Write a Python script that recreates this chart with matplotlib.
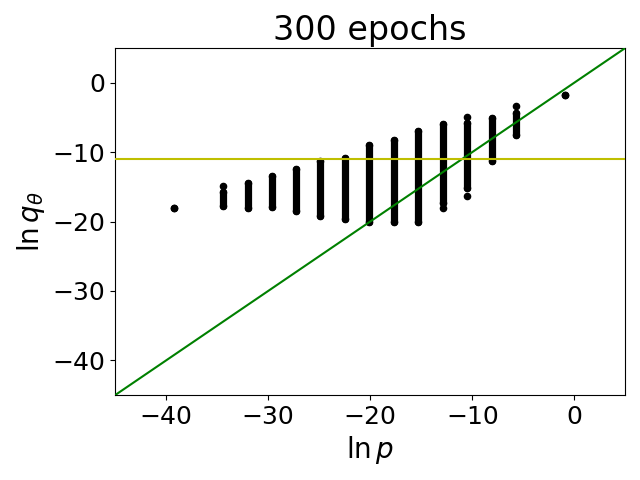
import matplotlib
matplotlib.use('Agg')
import matplotlib.pyplot as plt

# ln p positions of the vertical stripes
lnp = [-39.2, -34.4, -32.0, -29.6, -27.3, -24.9, -22.5, -20.1,
       -17.7, -15.3, -12.9, -10.5, -8.1, -5.7, -0.9]
# continuous part of each stripe (ln q_theta)
stripe_top = [-18.1, -15.8, -14.4, -13.4, -12.5, -11.3, -10.8, -9.0,
              -8.2, -6.9, -6.0, -5.8, -5.1, -4.4, -1.8]
stripe_bottom = [-18.1, -17.7, -18.1, -17.9, -18.5, -19.2, -19.6, -20.0,
                 -20.0, -20.0, -17.3, -15.2, -11.3, -7.5, -1.8]
# isolated points off the stripes
out_x = [-34.4, -12.9, -10.5, -10.5, -5.7]
out_y = [-14.9, -18.0, -4.9, -16.3, -3.4]

threshold = -11.0  # yellow horizontal line

fig, ax = plt.subplots(figsize=(6.4, 4.8), dpi=100)
fig.subplots_adjust(left=0.18, right=0.977, top=0.9, bottom=0.177)

for x, top, bot in zip(lnp, stripe_top, stripe_bottom):
    ax.plot([x, x], [bot, top], color='k', lw=5.2, solid_capstyle='round', zorder=2)
ax.scatter(lnp, stripe_top, s=20, c='k', zorder=3)
ax.scatter(lnp, stripe_bottom, s=20, c='k', zorder=3)
ax.scatter(out_x, out_y, s=20, c='k', zorder=3)

ax.plot([-45, 5], [-45, 5], color='g', lw=1.5, zorder=4)
ax.axhline(threshold, color='y', lw=1.5, zorder=4)

ax.set_xlim(-45, 5)
ax.set_ylim(-45, 5)
ax.set_xticks([-40, -30, -20, -10, 0])
ax.set_yticks([-40, -30, -20, -10, 0])
ax.tick_params(labelsize=18)
ax.set_xlabel(r'$\ln p$', fontsize=20)
ax.set_ylabel(r'$\ln q_\theta$', fontsize=20)
ax.set_title('300 epochs', fontsize=24)

fig.savefig('out.png', dpi=100)
